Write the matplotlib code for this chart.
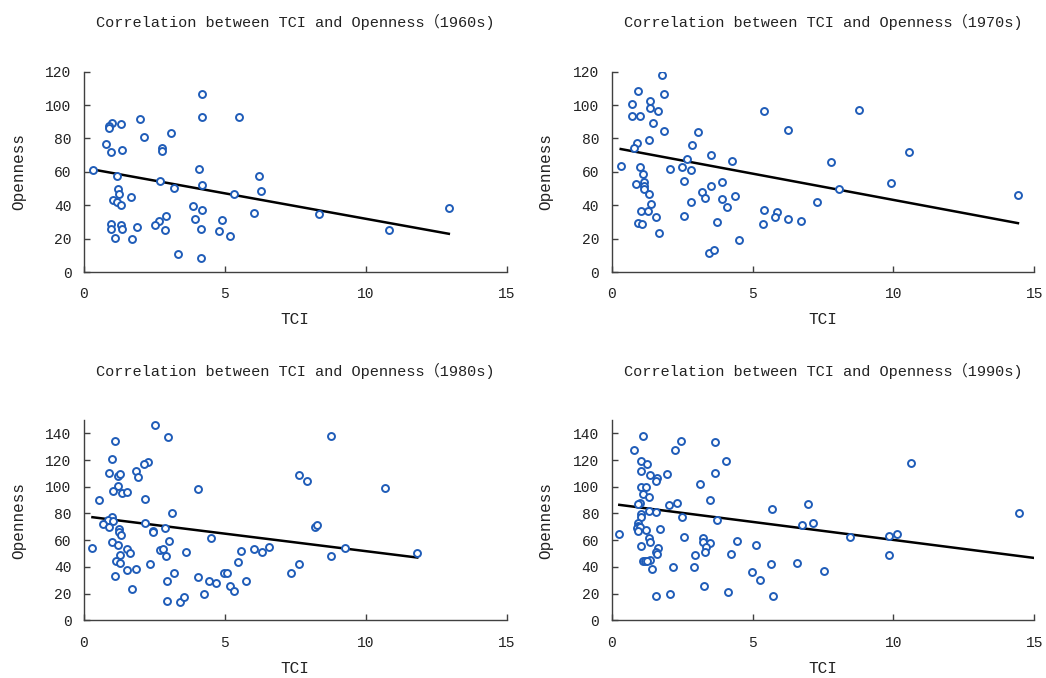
import matplotlib
matplotlib.use("Agg")
import matplotlib.pyplot as plt
import numpy as np

plt.rcParams['font.family'] = ['Liberation Mono', 'Noto Sans CJK SC', 'DejaVu Sans']

decades = ['1960s', '1970s', '1980s', '1990s']

tci_1960s = [0.33, 4.19, 4.19, 5.50, 1.99, 1.00, 0.88, 0.90, 1.30, 3.10,
             2.14, 0.78, 0.95, 1.34, 2.78, 2.78, 4.09, 1.16, 6.21, 2.70,
             3.18, 4.19, 6.29, 1.20, 1.23, 5.32, 1.66, 1.02, 1.17, 1.30,
             3.86, 4.19, 6.03, 3.94, 4.90, 2.91, 2.66, 2.53, 1.89, 0.95,
             0.95, 1.30, 1.34, 2.86, 4.14, 4.80, 5.17, 1.09, 1.69, 3.33,
             4.14, 8.33, 10.83, 12.95]
open_1960s = [61.4, 106.6, 92.6, 92.6, 91.8, 89.4, 87.4, 86.2, 88.6, 83.0,
              80.6, 76.6, 71.8, 73.4, 74.6, 72.4, 62.0, 57.8, 57.8, 54.6,
              50.6, 52.2, 48.8, 49.8, 46.6, 46.8, 44.8, 43.2, 41.8, 40.4,
              39.8, 37.0, 35.4, 32.0, 31.4, 33.6, 30.8, 28.0, 27.2, 29.0,
              25.8, 28.4, 25.8, 25.2, 25.8, 24.4, 21.6, 20.2, 19.6, 10.6,
              8.4, 34.8, 25.2, 38.4]

tci_1970s = [0.32, 1.78, 0.93, 1.85, 0.72, 1.36, 1.36, 1.64, 0.72, 1.01,
             1.45, 1.85, 3.05, 5.42, 0.89, 0.80, 1.32, 2.85, 3.52, 2.68,
             4.27, 1.01, 2.07, 2.48, 2.80, 1.12, 2.56, 3.91, 1.16, 0.88,
             1.14, 1.15, 3.52, 1.32, 3.20, 3.32, 4.38, 1.41, 3.91, 4.08,
             2.80, 1.04, 1.29, 1.57, 2.56, 0.93, 1.09, 3.72, 1.68, 4.53,
             3.44, 3.62, 5.42, 5.85, 5.80, 5.37,
             8.79, 6.27, 10.55, 7.79, 9.91, 8.07, 14.42, 7.30, 6.27, 6.71]
open_1970s = [63.3, 118.0, 108.2, 106.8, 100.6, 102.6, 98.4, 96.4, 93.6, 93.6,
              89.4, 84.6, 83.8, 96.4, 77.1, 74.1, 79.0, 76.0, 69.9, 67.9,
              66.5, 62.9, 61.7, 62.9, 60.9, 58.9, 54.5, 53.9, 53.9, 52.5,
              51.3, 49.9, 51.7, 46.7, 47.7, 44.1, 45.5, 40.5, 43.5, 38.7,
              42.1, 36.5, 36.5, 32.9, 33.8, 29.6, 29.0, 30.2, 23.4, 19.0,
              11.4, 13.4, 37.1, 35.7, 32.8, 28.7,
              96.8, 85.3, 71.9, 65.7, 53.1, 49.5, 46.1, 41.9, 31.6, 30.8]

tci_1980s = [2.52, 2.99, 1.10, 0.99, 2.28, 2.14, 0.87, 1.19, 1.27, 1.83,
             1.90, 1.22, 1.02, 1.36, 1.52, 4.06, 2.15, 0.55, 3.14, 1.00,
             0.84, 1.02, 0.66, 0.90, 2.15, 1.26, 1.26, 1.31, 2.44, 2.45,
             2.86, 4.51, 0.30, 1.01, 1.19, 3.02, 1.54, 1.63, 1.27, 2.70,
             2.82, 2.91, 3.62, 5.59, 6.03, 6.31, 6.55, 1.14, 1.27, 2.35,
             5.47, 1.51, 1.84, 1.10, 3.19, 4.06, 4.96, 5.08, 2.94, 4.42,
             4.70, 5.20, 5.74, 5.34, 1.70, 4.27, 2.94, 3.42, 3.55,
             8.75, 7.63, 7.91, 10.70, 8.20, 8.27, 9.28, 8.75, 7.63, 7.34, 11.83]
open_1980s = [146.5, 137.0, 134.3, 121.0, 118.8, 117.0, 110.0, 108.3, 109.2, 111.8,
              107.3, 100.5, 97.0, 95.0, 96.0, 98.5, 90.8, 90.0, 80.3, 77.7,
              75.2, 74.0, 72.2, 69.8, 72.8, 68.5, 66.2, 63.8, 67.2, 66.0,
              69.0, 62.0, 54.2, 58.5, 56.7, 59.5, 53.5, 50.5, 49.2, 52.5,
              53.3, 48.0, 51.5, 52.2, 53.3, 51.5, 55.2, 44.5, 42.8, 42.0,
              43.7, 37.5, 38.5, 33.5, 35.2, 32.5, 35.2, 35.2, 29.7, 29.7,
              28.2, 25.5, 29.7, 22.0, 23.5, 19.5, 14.7, 14.0, 17.7,
              137.7, 109.0, 104.7, 99.2, 70.2, 71.7, 54.5, 48.2, 42.0, 35.2, 50.7]

tci_1990s = [1.12, 2.47, 3.68, 0.80, 2.24, 4.04, 1.04, 1.24, 1.04, 3.68,
             1.95, 1.37, 1.60, 1.56, 3.15, 1.04, 1.21, 1.12, 1.33, 3.50,
             2.32, 0.99, 0.95, 2.04, 5.68, 1.33, 1.56, 1.04, 1.04, 2.49,
             3.72, 0.95, 0.95, 0.91, 0.99, 0.95, 1.21, 1.73, 0.27, 1.33,
             1.37, 2.56, 3.23, 3.23, 3.48, 3.36, 4.44, 5.12, 1.04, 1.63,
             1.56, 1.61, 3.31, 2.95, 4.23, 1.37, 1.10, 1.19, 1.27, 5.67,
             2.17, 2.91, 1.44, 4.99, 5.27, 3.27, 4.12, 2.06, 1.56, 5.72,
             10.62, 6.96, 6.75, 7.15, 8.47, 9.86, 10.11, 9.83, 14.46, 6.59, 7.52]
open_1990s = [137.7, 134.3, 133.5, 127.2, 127.2, 119.5, 119.5, 116.7, 111.5, 110.3,
              109.2, 108.5, 106.5, 104.0, 102.0, 100.2, 100.2, 94.7, 92.2, 90.0,
              88.2, 88.2, 87.2, 86.5, 83.0, 82.0, 81.0, 79.5, 77.0, 77.0,
              75.0, 72.8, 71.0, 69.0, 69.8, 67.2, 67.5, 68.2, 64.5, 61.5,
              58.5, 62.2, 61.5, 58.7, 57.7, 55.2, 59.5, 56.7, 56.0, 54.5,
              51.5, 49.5, 51.2, 49.0, 49.7, 45.5, 44.2, 44.2, 44.5, 42.0,
              40.2, 40.2, 38.5, 36.0, 30.5, 25.5, 21.2, 19.5, 18.5, 18.5,
              117.8, 87.2, 71.7, 72.5, 62.7, 63.2, 64.5, 49.0, 80.3, 43.0, 36.7]

# trend lines (slope, intercept)
trend_slope = [-3.05, -3.15, -2.62, -2.70]
trend_intercept = [62.4, 74.7, 78.0, 87.2]

tci_all = [tci_1960s, tci_1970s, tci_1980s, tci_1990s]
open_all = [open_1960s, open_1970s, open_1980s, open_1990s]
y_max = [120, 120, 150, 150]

blue = '#1f5cb8'
axis_col = '#404040'

fig = plt.figure(figsize=(10.46, 6.78), dpi=100)
lefts = [0.0803, 0.5848, 0.0803, 0.5848]
bottoms = [0.5988, 0.5988, 0.0851, 0.0851]

for i in range(4):
    ax = fig.add_axes([lefts[i], bottoms[i], 0.4040, 0.2954])
    x = np.array(tci_all[i])
    y = np.array(open_all[i])

    ax.plot(x, y, 'o', ms=5, mfc='white', mec=blue, mew=1.4, ls='none', zorder=3)

    # linear trend line over the data range (last panel runs to the axis edge)
    x_end = x.max() if i < 3 else 15
    xs = np.array([x.min(), x_end])
    ax.plot(xs, trend_slope[i] * xs + trend_intercept[i], color='black', lw=1.8, zorder=2)

    ax.set_xlim(0, 15)
    ax.set_ylim(0, y_max[i])
    ax.set_xticks([0, 5, 10, 15])
    ax.set_yticks(np.arange(0, y_max[i] + 1, 20))

    for s in ['top', 'right']:
        ax.spines[s].set_visible(False)
    for s in ['left', 'bottom']:
        ax.spines[s].set_color(axis_col)
        ax.spines[s].set_linewidth(1.0)
    ax.tick_params(direction='in', length=4, width=1, color=axis_col,
                   labelsize=10.5, labelcolor='#222222')
    ax.tick_params(axis='x', pad=11)
    ax.tick_params(axis='y', pad=9)

    ax.set_title("Correlation between TCI and Openness（" + decades[i] + ")",
                 fontsize=11, pad=32, color='#222222')
    ax.set_xlabel("TCI", fontsize=11.5, labelpad=8, color='#222222')
    ax.set_ylabel("Openness", fontsize=11.5, labelpad=14, color='#222222')

fig.savefig('out.png', dpi=100)
